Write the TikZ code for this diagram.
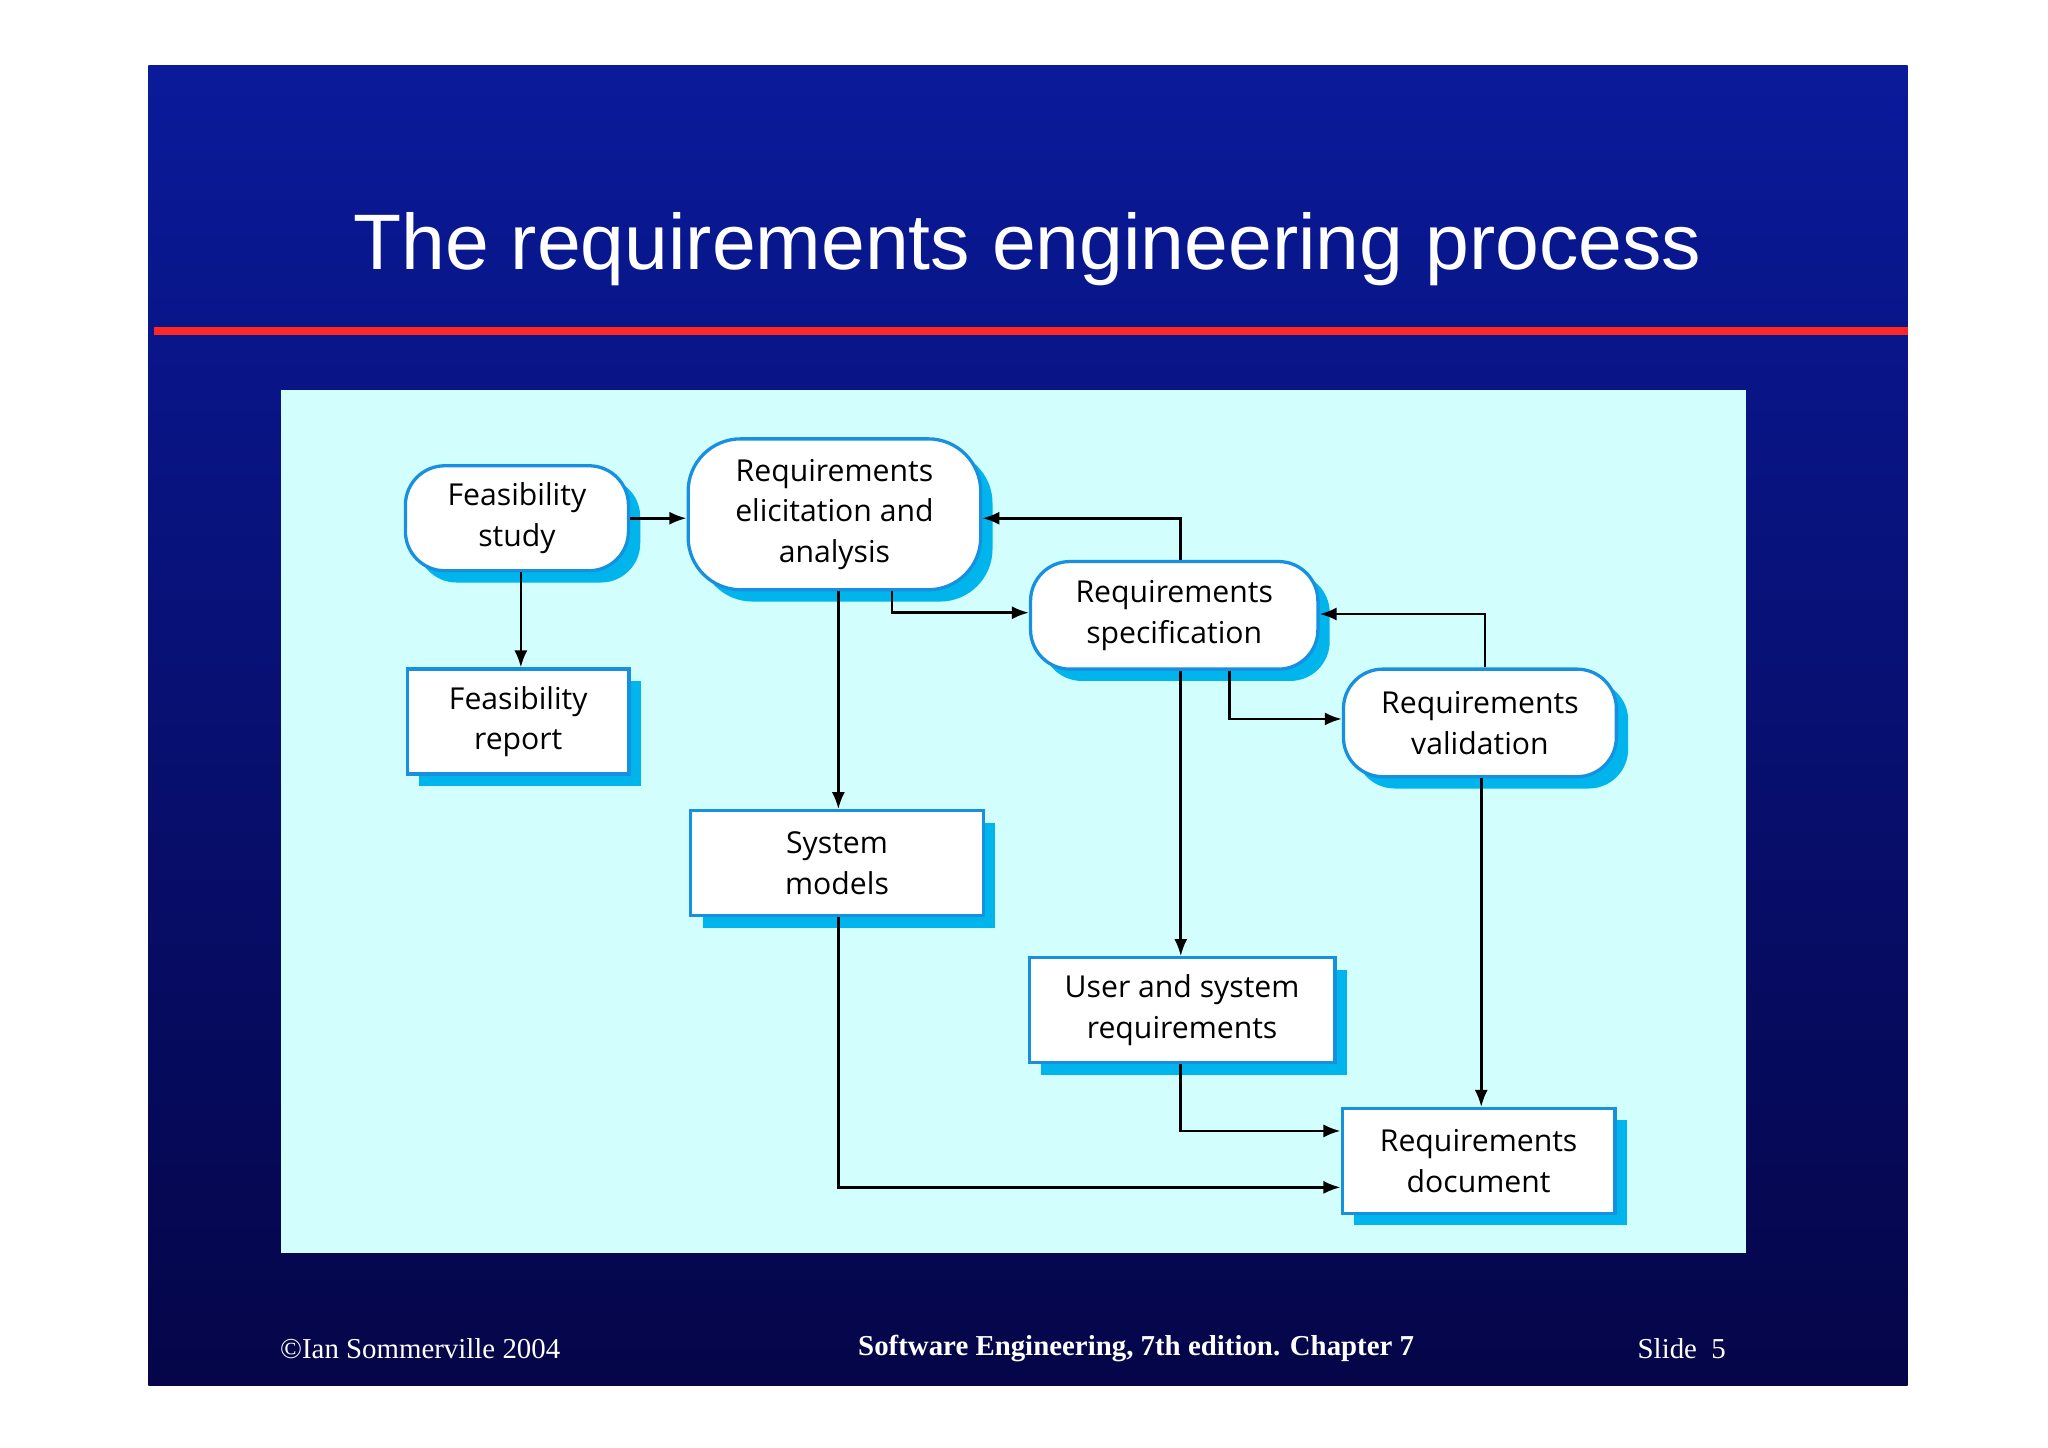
\documentclass[tikz,border=0pt]{standalone}
\usepackage{fontspec}
\setmainfont{Liberation Serif}
\newfontfamily\titlefont{Liberation Sans}
\newfontfamily\nodefont{Open Sans}
\usetikzlibrary{shadows,arrows.meta}
\definecolor{slidetop}{HTML}{0A1A9A}
\definecolor{slidebot}{HTML}{050548}
\definecolor{panel}{HTML}{D2FEFE}
\definecolor{shad}{HTML}{00B4EC}
\definecolor{bord}{HTML}{1890E0}
\begin{document}
\begin{tikzpicture}[x=1pt,y=-1pt,
  base/.style={draw=bord,line width=2.5pt,fill=white,align=center,font=\nodefont\fontsize{23}{31}\selectfont,inner sep=0pt,
    copy shadow={shadow xshift=9pt,shadow yshift=-9pt,fill=shad,draw=none}},
  proc/.style={base,rounded corners=30pt},
  doc/.style={base},
  conn/.style={line width=2pt,-{Latex[length=13pt,width=10pt]}}]
\useasboundingbox (0,0) rectangle (1561,1103);
\fill[white] (0,0) rectangle (1561,1103);
\shade[top color=slidetop,bottom color=slidebot] (113,50) rectangle (1454,1056);
\fill[red!85!white] (117,249) rectangle (1454,255);
\node[text=white,font=\titlefont\fontsize{60}{70}\selectfont] (title) at (783,190) {The requirements engineering process};
\fill[panel] (214,297) rectangle (1331,955);
\node[proc,minimum width=170pt,minimum height=80pt] (fs) at (394,395) {Feasibility\\study};
\node[proc,minimum width=223pt,minimum height=115pt,rounded corners=40pt] (el) at (636,392) {Requirements\\elicitation and\\analysis};
\node[proc,minimum width=219pt,minimum height=82pt] (sp) at (895,469) {Requirements\\specification};
\node[proc,minimum width=208pt,minimum height=82pt] (va) at (1128,551) {Requirements\\validation};
\node[doc,minimum width=169pt,minimum height=80pt] (fr) at (395,550) {Feasibility\\report};
\node[doc,minimum width=223pt,minimum height=80pt] (sm) at (638,658) {System\\models};
\node[doc,minimum width=233pt,minimum height=80pt] (us) at (901,770) {User and system\\requirements};
\node[doc,minimum width=208pt,minimum height=80pt] (rd) at (1127,885) {Requirements\\document};
\draw[conn] (fs.east) -- (el.west |- fs.east);
\draw[conn] (fs.south -| 397,0) -- (fr.north -| 397,0);
\draw[conn] (sp.north -| 900,0) -- (900,395) -- (el.east |- 0,395);
\draw[conn] (el.south -| 680,0) -- (680,467) -- (sp.west |- 0,467);
\draw[conn] (el.south -| 639,0) -- (sm.north -| 639,0);
\draw[conn] (va.north -| 1132,0) -- (1132,468) -- (sp.east |- 0,468);
\draw[conn] (sp.south -| 937,0) -- (937,548) -- (va.west |- 0,548);
\draw[conn] (sp.south -| 900,0) -- (us.north -| 900,0);
\draw[conn] (va.south -| 1129,0) -- (rd.north -| 1129,0);
\draw[conn] (us.south -| 900,0) -- (900,862) -- (rd.west |- 0,862);
\draw[conn] (sm.south -| 639,0) -- (639,905) -- (rd.west |- 0,905);
\node[text=white,anchor=west,font=\fontsize{22}{26}\selectfont] (f1) at (210,1028) {\textcopyright Ian Sommerville 2004};
\node[text=white,font=\bfseries\fontsize{22}{26}\selectfont] (f2) at (866,1028) {Software Engineering, 7th edition. Chapter 7};
\node[text=white,anchor=east,font=\fontsize{22}{26}\selectfont] (f3) at (1319,1028) {Slide\ \ 5};
\end{tikzpicture}
\end{document}
